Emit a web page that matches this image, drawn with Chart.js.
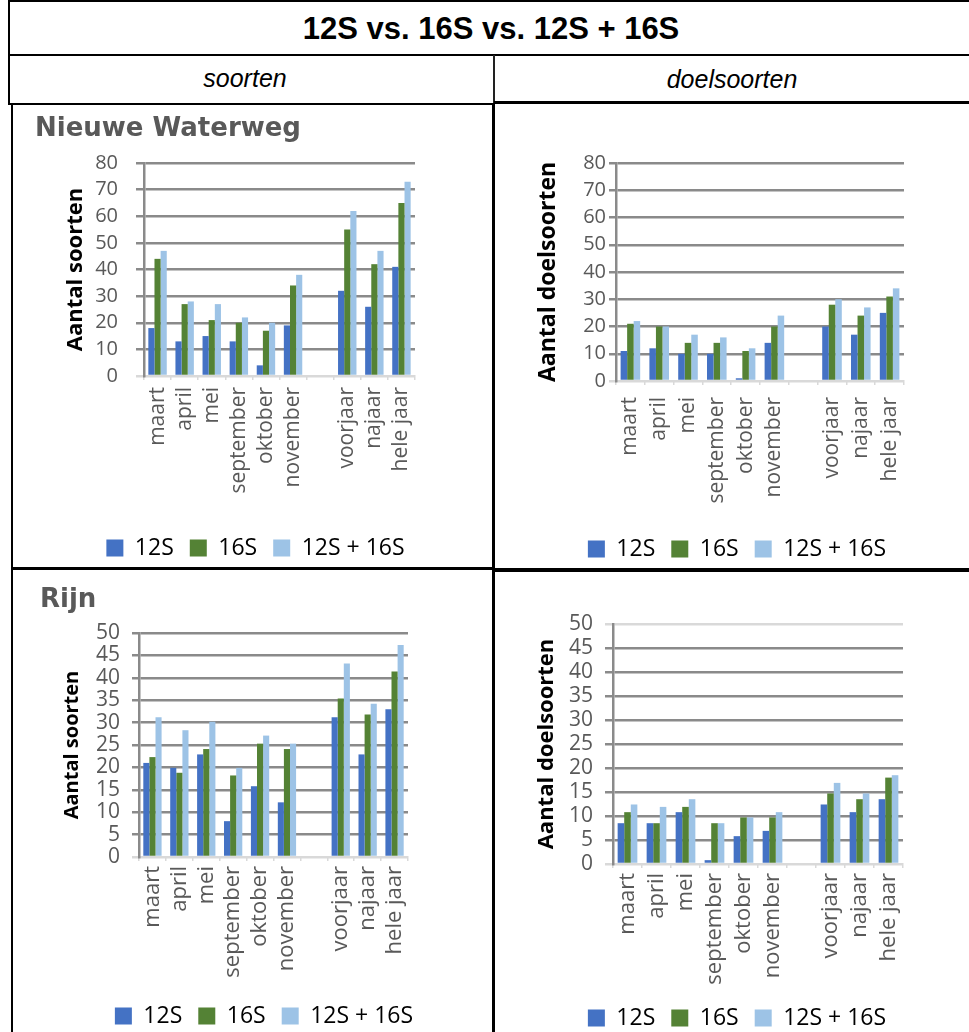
<!DOCTYPE html>
<html lang="nl">
<head>
<meta charset="utf-8">
<title>12S vs. 16S vs. 12S + 16S</title>
<script src="https://cdn.jsdelivr.net/npm/chart.js@4/dist/chart.umd.min.js"></script>
<style>
  html, body { margin: 0; padding: 0; background: #fff; }
  body { width: 969px; height: 1032px; overflow: hidden; position: relative; }
  .ln { position: absolute; background: #000; z-index: 5; }
  .hd { position: absolute; font-family: "Liberation Sans", Arial, sans-serif; color: #000; white-space: nowrap; transform: translate(-50%, -50%); z-index: 6; }
  canvas { position: absolute; z-index: 2; }
</style>
</head>
<body>
<!-- table header -->
<div class="hd" style="left:491px; top:29px; font-size:31px; font-weight:bold;">12S vs. 16S vs. 12S + 16S</div>
<div class="hd" style="left:245px; top:78px; font-size:25px; font-style:italic;">soorten</div>
<div class="hd" style="left:732px; top:79px; font-size:25px; font-style:italic;">doelsoorten</div>

<!-- table rules -->
<div class="ln" style="left:8px; top:0px; width:961px; height:2px;"></div>
<div class="ln" style="left:8px; top:54px; width:961px; height:2px;"></div>
<div class="ln" style="left:8px; top:0px; width:2px; height:105px;"></div>
<div class="ln" style="left:493px; top:55px; width:1.5px; height:48px; background:#222;"></div>
<div class="ln" style="left:8px; top:103px; width:486px; height:2px;"></div>
<div class="ln" style="left:494px; top:100.5px; width:475px; height:3.5px;"></div>
<div class="ln" style="left:11px; top:103px; width:2px; height:929px;"></div>
<div class="ln" style="left:492px; top:103px; width:3px; height:929px;"></div>
<div class="ln" style="left:11px; top:567px; width:483px; height:2.5px;"></div>
<div class="ln" style="left:494px; top:568px; width:475px; height:4px;"></div>

<canvas id="c1"></canvas>
<canvas id="c2"></canvas>
<canvas id="c3"></canvas>
<canvas id="c4"></canvas>

<script>
// ---- data ----
const categories = ['maart', 'april', 'mei', 'september', 'oktober', 'november', '', 'voorjaar', 'najaar', 'hele jaar'];
const seriesLabels = ['12S', '16S', '12S + 16S'];

// Nieuwe Waterweg – aantal soorten
const nwSoorten12S   = [18, 13, 15, 13, 4, 19, null, 32, 26, 41];
const nwSoorten16S   = [44, 27, 21, 20, 17, 34, null, 55, 42, 65];
const nwSoortenBeide = [47, 28, 27, 22, 20, 38, null, 62, 47, 73];

// Nieuwe Waterweg – aantal doelsoorten
const nwDoel12S   = [11, 12, 10, 10, 1, 14, null, 20, 17, 25];
const nwDoel16S   = [21, 20, 14, 14, 11, 20, null, 28, 24, 31];
const nwDoelBeide = [22, 20, 17, 16, 12, 24, null, 30, 27, 34];

// Rijn – aantal soorten
const rijnSoorten12S   = [21, 19.9, 22.9, 8, 15.8, 12.2, null, 31.2, 22.9, 33];
const rijnSoorten16S   = [22.3, 18.8, 24.1, 18.2, 25.3, 24.1, null, 35.4, 31.8, 41.4];
const rijnSoortenBeide = [31.2, 28.3, 30.2, 19.9, 27.1, 25.3, null, 43.2, 34.2, 47.3];

// Rijn – aantal doelsoorten
const rijnDoel12S   = [8.5, 8.5, 10.8, 0.8, 5.8, 6.9, null, 12.4, 10.8, 13.5];
const rijnDoel16S   = [10.8, 8.5, 11.9, 8.5, 9.7, 9.7, null, 14.7, 13.5, 18.0];
const rijnDoelBeide = [12.4, 11.9, 13.5, 8.5, 9.7, 10.8, null, 16.9, 14.7, 18.5];

// y-axis tick values
const ticksNW   = [0, 10, 20, 30, 40, 50, 60, 70, 80];
const ticksRijn = [0, 5, 10, 15, 20, 25, 30, 35, 40, 45, 50];

// ---- styling ----
const seriesColors = ['#4472C4', '#548235', '#9DC3E6'];
const GRID = '#8a8a8a';
const LIGHT = '#d9d9d9';
const LABEL = '#595959';
const SANS = '"Open Sans", "Noto Sans", sans-serif';

function makeDatasets(values) {
  return values.map((v, i) => ({
    label: seriesLabels[i],
    data: v,
    backgroundColor: seriesColors[i],
    borderWidth: 0,
    categoryPercentage: 0.68,
    barPercentage: 1.0
  }));
}

// Builds one panel; all geometry is given in page pixels.
function panel(id, s, values, ticks) {
  const el = document.getElementById(id);
  const titleLH = s.titleSize * 1.2;
  const leftEdge = s.title ? s.titleX : s.leftEdge;
  const rightEdge = 2 * s.legendCX - leftEdge;
  const legendTop = s.legendCY - s.legendPad - s.legendSize / 2;
  const legendBottom = legendTop + s.legendSize + s.legendPad + 10;
  const cw = Math.ceil(s.cx1 - s.cx0);
  const ch = Math.ceil(legendBottom - s.cy0);
  el.width = cw; el.height = ch;
  el.style.left = s.cx0 + 'px'; el.style.top = s.cy0 + 'px';
  el.style.width = cw + 'px'; el.style.height = ch + 'px';

  const padTop = s.title ? 0 : s.plot.t - s.cy0;
  const layoutPad = {
    left: leftEdge - s.cx0,
    right: s.cx0 + cw - rightEdge,
    top: padTop,
    bottom: s.cy0 + ch - legendBottom
  };
  const yTitleLH = s.yTitleSize * 1.2;
  const topVal = ticks[ticks.length - 1];

  new Chart(el, {
    type: 'bar',
    data: { labels: categories, datasets: makeDatasets(values) },
    options: {
      responsive: false,
      animation: false,
      devicePixelRatio: 1,
      layout: { padding: layoutPad },
      plugins: {
        tooltip: { enabled: false },
        title: {
          display: !!s.title,
          text: s.title || '',
          align: 'start',
          color: '#595959',
          font: { family: '"DejaVu Sans", sans-serif', size: s.titleSize, weight: 'bold' },
          padding: s.title ? { top: s.titleCY - titleLH / 2 - s.cy0, bottom: s.plot.t - s.titleCY - titleLH / 2 } : 0
        },
        legend: {
          position: 'bottom',
          labels: {
            boxWidth: 17, boxHeight: 17,
            padding: s.legendPad,
            color: '#000',
            font: { family: SANS, size: s.legendSize }
          }
        }
      },
      scales: {
        x: {
          grid: { display: true, drawOnChartArea: false, drawTicks: true, tickLength: 4, color: LIGHT, lineWidth: 1.5 },
          border: { display: true, color: LIGHT, width: 2 },
          ticks: {
            autoSkip: false, minRotation: 90, maxRotation: 90,
            padding: s.xLabelTop - s.plot.b - 4,
            color: LABEL,
            font: { family: SANS, size: s.xSize }
          },
          afterFit: (sc) => { sc.height = legendTop - s.plot.b; }
        },
        y: {
          min: ticks[0], max: topVal,
          grid: {
            color: (c) => (c.tick && (c.tick.value === 0 || (s.lightTop && c.tick.value === topVal))) ? LIGHT : GRID,
            lineWidth: 2.5, tickLength: s.yTickLen, drawTicks: true
          },
          border: { display: true, color: GRID, width: 2.5 },
          ticks: {
            autoSkip: false,
            stepSize: ticks[1] - ticks[0],
            padding: s.plot.l - s.yTickLen - s.yLabelRight,
            color: LABEL,
            font: { family: SANS, size: s.ySize }
          },
          title: {
            display: true,
            text: s.yTitle,
            color: '#000',
            font: { family: SANS, size: s.yTitleSize, weight: 'bold' },
            padding: { top: s.yTitleCX - leftEdge - yTitleLH / 2, bottom: 0 }
          },
          afterFit: (sc) => { sc.width = s.plot.l - leftEdge; }
        },
        gutter: {
          type: 'linear',
          position: 'right',
          display: true,
          grid: { display: false, drawTicks: false },
          border: { display: false },
          ticks: { display: false },
          afterFit: (sc) => { sc.width = rightEdge - s.plot.r; }
        }
      }
    }
  });
}

panel('c1', {
  cx0: 13, cx1: 494, cy0: 105,
  title: 'Nieuwe Waterweg', titleX: 35, titleCY: 129, titleSize: 26,
  plot: { l: 144, r: 415, t: 163, b: 376 },
  yTitle: 'Aantal soorten', yTitleCX: 76, yTitleSize: 22,
  ySize: 20, yTickLen: 8, yLabelRight: 118,
  xSize: 21, xLabelTop: 387,
  legendCX: 255.5, legendCY: 548, legendSize: 23, legendPad: 16
}, [nwSoorten12S, nwSoorten16S, nwSoortenBeide], ticksNW);

panel('c2', {
  cx0: 496, cx1: 969, cy0: 104,
  title: null, leftEdge: 520, titleSize: 26,
  plot: { l: 616, r: 904, t: 163, b: 381 },
  yTitle: 'Aantal doelsoorten', yTitleCX: 548, yTitleSize: 23,
  ySize: 20, yTickLen: 7, yLabelRight: 606,
  xSize: 21, xLabelTop: 397,
  legendCX: 737, legendCY: 549, legendSize: 23, legendPad: 16
}, [nwDoel12S, nwDoel16S, nwDoelBeide], ticksNW);

panel('c3', {
  cx0: 13, cx1: 494, cy0: 570,
  title: 'Rijn', titleX: 40, titleCY: 600, titleSize: 26,
  plot: { l: 139, r: 408, t: 633, b: 857 },
  yTitle: 'Aantal soorten', yTitleCX: 72, yTitleSize: 20,
  ySize: 21, yTickLen: 7, yLabelRight: 120,
  xSize: 22, xLabelTop: 866,
  legendCX: 264, legendCY: 1016, legendSize: 23, legendPad: 16
}, [rijnSoorten12S, rijnSoorten16S, rijnSoortenBeide], ticksRijn);

panel('c4', {
  cx0: 496, cx1: 969, cy0: 573,
  title: null, leftEdge: 520, titleSize: 26, lightTop: true,
  plot: { l: 613, r: 903, t: 624, b: 864 },
  yTitle: 'Aantal doelsoorten', yTitleCX: 547, yTitleSize: 22,
  ySize: 21, yTickLen: 8, yLabelRight: 593,
  xSize: 22, xLabelTop: 873,
  legendCX: 737, legendCY: 1018, legendSize: 23, legendPad: 16
}, [rijnDoel12S, rijnDoel16S, rijnDoelBeide], ticksRijn);
</script>
</body>
</html>
